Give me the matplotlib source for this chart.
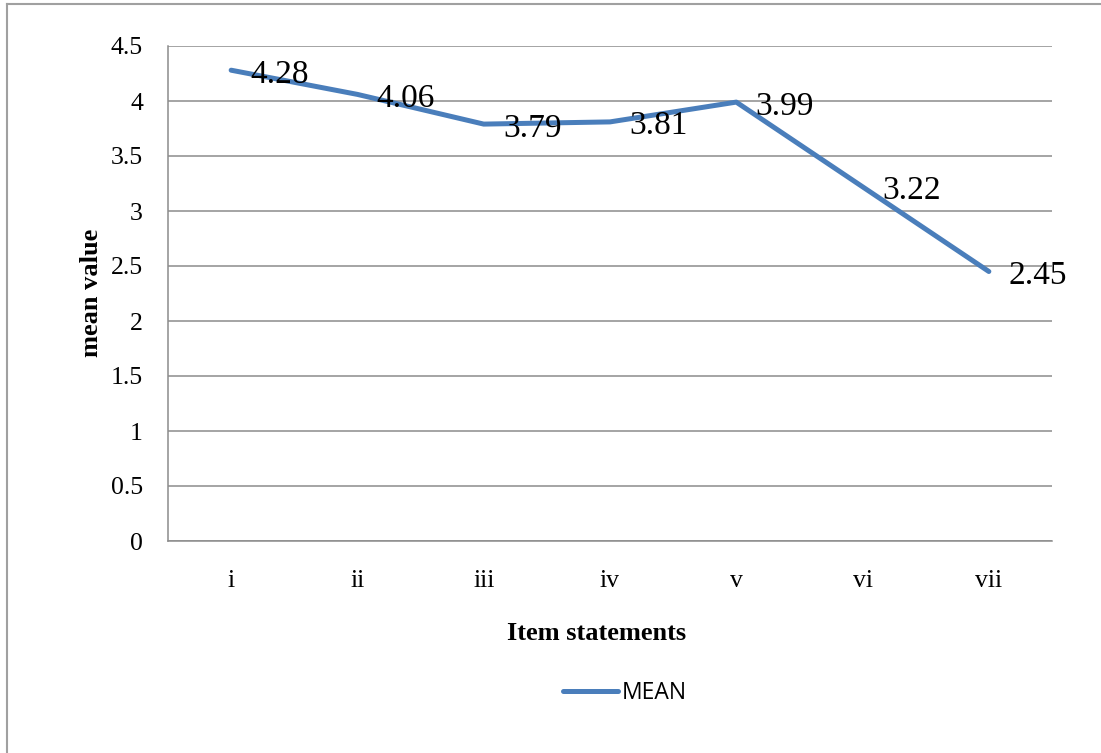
import numpy as np
import matplotlib.pyplot as plt
from matplotlib.lines import Line2D

items = ['i', 'ii', 'iii', 'iv', 'v', 'vi', 'vii']
means = [4.28, 4.06, 3.79, 3.81, 3.99, 3.22, 2.45]

LINE_COLOR = '#4a7ebb'
GRID_COLOR = '#8c8c8c'

plt.rcParams['font.family'] = ['Liberation Serif', 'DejaVu Serif']

fig = plt.figure(figsize=(11.01, 7.53), dpi=100)
ax = fig.add_axes([168 / 1101, 1 - 541 / 753, (1052 - 168) / 1101, (541 - 46) / 753])

x = np.arange(len(items))
ax.plot(x, means, color=LINE_COLOR, lw=3.6, solid_capstyle='round', zorder=3)

# data labels to the right of each point
for xi, v in zip(x, means):
    ax.annotate(f'{v:.2f}', (xi, v), xytext=(14, -3), textcoords='offset points',
                ha='left', va='center', fontsize=24, zorder=4)

ax.set_xlim(-0.5, len(items) - 0.5)
ax.set_ylim(0, 4.5)
ax.set_yticks(np.arange(0, 4.51, 0.5))
ax.set_yticklabels(['0', '0.5', '1', '1.5', '2', '2.5', '3', '3.5', '4', '4.5'])
ax.set_xticks(x)
ax.set_xticklabels(items)
ax.tick_params(axis='y', length=0, pad=18, labelsize=18.5)
ax.tick_params(axis='x', length=0, pad=21, labelsize=18.5)

ax.grid(axis='y', color=GRID_COLOR, lw=1.1)
ax.set_axisbelow(True)
for s in ['top', 'right']:
    ax.spines[s].set_visible(False)
for s in ['left', 'bottom']:
    ax.spines[s].set_color(GRID_COLOR)
    ax.spines[s].set_linewidth(1.1)

fig.text(92 / 1101, 1 - 293 / 753, 'mean value', rotation=90, ha='center', va='center',
         fontsize=19, fontweight='bold')
fig.text(597 / 1101, 1 - 633 / 753, 'Item statements', ha='center', va='center',
         fontsize=19, fontweight='bold')

# legend
handle = Line2D([], [], color=LINE_COLOR, lw=3.6, solid_capstyle='round')
fig.legend([handle], ['MEAN'], loc='center', bbox_to_anchor=(625 / 1101, 1 - 693 / 753),
           frameon=False, prop={'family': 'Open Sans', 'size': 16.5},
           handlelength=2.4, handletextpad=0.2)

# outer chart border (left and top visible)
fig.add_artist(Line2D([7 / 1101, 7 / 1101], [0, 1 - 4 / 753], transform=fig.transFigure,
                      color='#a0a0a0', lw=1.5))
fig.add_artist(Line2D([7 / 1101, 1], [1 - 4 / 753, 1 - 4 / 753], transform=fig.transFigure,
                      color='#a0a0a0', lw=1.5))

fig.savefig('out.png', dpi=100)
